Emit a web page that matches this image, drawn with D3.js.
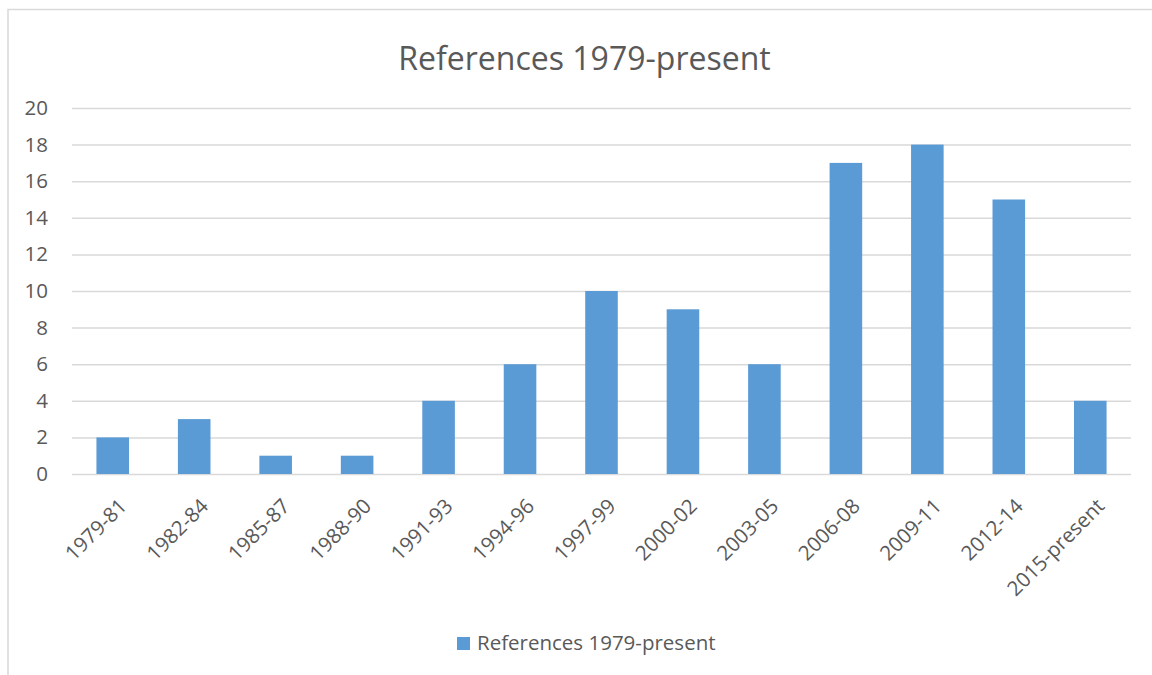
<!DOCTYPE html>
<html>
<head>
<meta charset="utf-8">
<script src="https://cdn.jsdelivr.net/npm/d3@7"></script>
<style>
  html, body { margin: 0; padding: 0; background: #fff; }
  svg { display: block; font-family: "Open Sans", Lato, sans-serif; }
</style>
</head>
<body>
<svg id="chart" width="1152" height="675"></svg>
<script>
const title = "References 1979-present"
const seriesName = "References 1979-present"
const categories = ["1979-81", "1982-84", "1985-87", "1988-90", "1991-93", "1994-96", "1997-99",
  "2000-02", "2003-05", "2006-08", "2009-11", "2012-14", "2015-present"]
const values = [2, 3, 1, 1, 4, 6, 10, 9, 6, 17, 18, 15, 4]
const yTicks = [0, 2, 4, 6, 8, 10, 12, 14, 16, 18, 20]

const barColor = "#5b9bd5"
const gridColor = "#d9d9d9"
const textColor = "#595959"
const labelSize = 20.5

const svg = d3.select("#chart")
const margin = { top: 108, right: 21, bottom: 201, left: 72 }
const width = 1152, height = 675

// chart frame (runs off the right and bottom edges)
svg.append("rect")
  .attr("x", 8).attr("y", 9.5)
  .attr("width", 1160).attr("height", 680)
  .attr("fill", "none")
  .attr("stroke", gridColor)
  .attr("stroke-width", 1.5)

const x = d3.scaleBand()
  .domain(categories)
  .range([margin.left, width - margin.right])
  .paddingInner(0.6)
  .paddingOuter(0.3)

const y = d3.scaleLinear()
  .domain([0, 20])
  .range([height - margin.bottom, margin.top])

// gridlines + y labels
const yAxis = svg.append("g")
  .attr("transform", `translate(${margin.left},0)`)
  .call(d3.axisLeft(y).tickValues(yTicks).tickSize(-(width - margin.left - margin.right)).tickPadding(24))

yAxis.select(".domain").remove()
yAxis.selectAll(".tick line").attr("stroke", gridColor).attr("stroke-width", 1.5)
yAxis.selectAll(".tick text")
  .attr("fill", textColor)
  .attr("font-size", labelSize)
  .attr("font-family", "'Open Sans', sans-serif")

// bars
svg.append("g")
  .selectAll("rect")
  .data(values)
  .join("rect")
  .attr("x", (d, i) => x(categories[i]))
  .attr("y", d => y(d))
  .attr("width", x.bandwidth())
  .attr("height", d => y(0) - y(d))
  .attr("fill", barColor)

// rotated category labels
svg.append("g")
  .selectAll("text")
  .data(categories)
  .join("text")
  .attr("transform", d => `translate(${x(d) + x.bandwidth() / 2 + 5},${y(0) + 23}) rotate(-45)`)
  .attr("text-anchor", "end")
  .attr("dy", "0.72em")
  .attr("fill", textColor)
  .attr("font-size", labelSize)
  .text(d => d)

// title
svg.append("text")
  .attr("x", 584.5)
  .attr("y", 70)
  .attr("text-anchor", "middle")
  .attr("fill", textColor)
  .attr("font-size", 32)
  .text(title)

// legend
const legend = svg.append("g").attr("transform", "translate(457,637)")
legend.append("rect")
  .attr("width", 13).attr("height", 13)
  .attr("fill", barColor)
legend.append("text")
  .attr("x", 20)
  .attr("y", 13)
  .attr("fill", textColor)
  .attr("font-size", labelSize)
  .text(seriesName)
</script>
</body>
</html>
